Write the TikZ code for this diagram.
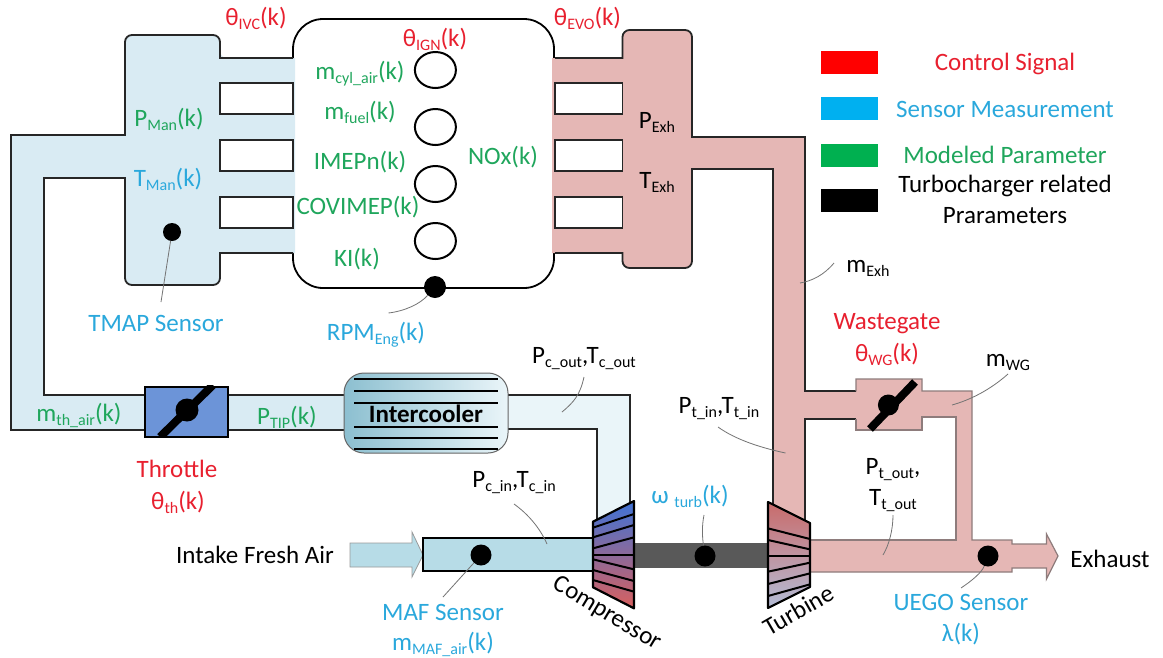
\documentclass[tikz,border=0pt]{standalone}
\usepackage{fontspec}
\setmainfont{Carlito}
\usetikzlibrary{shapes.geometric}
\definecolor{cred}{HTML}{E8202F}
\definecolor{ccyan}{HTML}{2AA8DC}
\definecolor{cgreen}{HTML}{1FA65C}
\definecolor{manblue}{HTML}{D9EBF3}
\definecolor{paleblue}{HTML}{EAF5F9}
\definecolor{inblue}{HTML}{B7DCE7}
\definecolor{coolL}{HTML}{8CBFD0}
\definecolor{exh}{HTML}{E5B7B5}
\definecolor{exhline}{HTML}{8E7C7C}
\definecolor{thblue}{HTML}{6C94D8}
\definecolor{cT}{HTML}{3F73D6}
\definecolor{cM}{HTML}{8C6DB0}
\definecolor{cB}{HTML}{D9605E}
\definecolor{tT}{HTML}{C96B6B}
\definecolor{tM}{HTML}{D3A6AE}
\definecolor{tB}{HTML}{B4BDD7}
\newcommand\Lo[1]{\raisebox{-.35ex}{\fontsize{16}{16}\selectfont #1}}
\tikzset{
  lbl/.style={inner sep=0pt,font=\fontsize{25}{28}\selectfont,text depth=0pt},
  redl/.style={lbl,text=cred},
  cyanl/.style={lbl,text=ccyan},
  greenl/.style={lbl,text=cgreen},
  blackl/.style={lbl,text=black},
  pipe/.style={line width=1.8pt,draw=black!85},
  thinp/.style={line width=1.2pt,draw=exhline},
  leader/.style={line width=.8pt,draw=black!55},
  sensor/.style={circle,fill=black,inner sep=0pt},
  legendbox/.style={minimum width=57pt,minimum height=23pt,inner sep=0pt},
  cyl/.style={ellipse,draw=black,line width=2pt,fill=white,minimum width=41pt,minimum height=36pt,inner sep=0pt},
  blade/.style={line width=8pt,draw=black},
  vanes/.style={line width=2pt,draw=black}
}
\begin{document}
\begin{tikzpicture}[x=1pt,y=-1pt]
\useasboundingbox (0,0) rectangle (1163,657);
\fill[white] (0,0) rectangle (1163,657);

% engine
\node[draw=black,line width=1.8pt,fill=white,rounded corners=30pt,minimum width=261pt,minimum height=269pt,inner sep=0pt] (eng) at (423.5,153.5) {};

% intake side
\fill[manblue] (125,42) [rounded corners=7pt] -- (125,35) -- (220,35) -- (220,58) [sharp corners] -- (295,58) -- (295,253) -- (220,253) [rounded corners=7pt] -- (220,285) -- (125,285) [sharp corners] -- (125,178) -- (44,178) -- (44,395) -- (145,395) -- (145,430) -- (11,430) -- (11,135) -- (125,135) -- cycle;
\draw[pipe] (293,58) -- (220,58) [rounded corners=7pt] -- (220,35) -- (125,35) [sharp corners] -- (125,135) -- (11,135) -- (11,430) -- (145,430);
\draw[pipe] (145,395) -- (44,395) -- (44,178) -- (125,178) [rounded corners=7pt] -- (125,285) -- (220,285) [sharp corners] -- (220,253) -- (293,253);
\foreach \a/\b in {83/114,140/171,197/228}
  \draw[pipe,fill=white] (220,\a) rectangle (293,\b);

% exhaust side
\fill[exh] (622.5,58) [rounded corners=7pt] -- (622.5,30) -- (692,30) [sharp corners] -- (692,137) -- (805,137) -- (805,391) -- (856,391) -- (856,379) -- (922,379) -- (922,391) -- (972,391) -- (972,540) -- (1012,540) -- (1012,544) -- (1046.5,544) -- (1046.5,534) -- (1058,556) -- (1046.5,579) -- (1046.5,568) -- (1012,568) -- (1012,572) -- (805,572) -- (805,540) -- (956,540) -- (956,417) -- (922,417) -- (922,430) -- (856,430) -- (856,419) -- (805,419) -- (805,530) -- (773,530) -- (773,169) -- (692,169) [rounded corners=7pt] -- (692,268) -- (622.5,268) [sharp corners] -- (622.5,253) -- (552,253) -- (552,58) -- cycle;
\draw[pipe] (555,58) -- (622.5,58) [rounded corners=7pt] -- (622.5,30) -- (692,30) [sharp corners] -- (692,137) -- (805,137) -- (805,391) -- (856,391);
\draw[pipe] (555,253) -- (622.5,253) [rounded corners=7pt] -- (622.5,268) -- (692,268) [sharp corners] -- (692,169) -- (773,169) -- (773,525);
\draw[pipe] (856,419) -- (805,419) -- (805,530);
\foreach \a/\b in {83/114,140/171,197/228}
  \draw[pipe,fill=white] (555,\a) rectangle (622.5,\b);
\draw[thinp] (856,391) -- (856,379) -- (922,379) -- (922,391) -- (972,391) -- (972,540) -- (1012,540) -- (1012,544) -- (1046.5,544) -- (1046.5,534) -- (1058,556) -- (1046.5,579) -- (1046.5,568) -- (1012,568) -- (1012,572) -- (810,572);
\draw[thinp] (856,419) -- (856,430) -- (922,430) -- (922,417) -- (956,417) -- (956,540) -- (810,540);

% lower pipes
\fill[manblue] (228,395) rectangle (346,430);
\draw[pipe] (228,395) -- (346,395) (228,430) -- (346,430);
\fill[paleblue] (506,395) -- (630,395) -- (630,510) -- (597,525) -- (597,429) -- (506,429) -- cycle;
\draw[pipe] (506,395) -- (630,395) -- (630,505) (506,429) -- (597,429) -- (597,525);

% throttle
\node[draw=black,line width=2.4pt,fill=thblue,minimum width=83pt,minimum height=50pt,inner sep=0pt] (thr) at (186.5,411.7) {};
\begin{scope}
\clip (thr.south west) rectangle (thr.north east);
\draw[blade] (160,437) -- (213,385);
\end{scope}
\node[sensor,minimum size=23pt] (thrd) at (187,410) {};

% intercooler
\node[draw=black!60,line width=1pt,rounded corners=20pt,left color=coolL,right color=paleblue,minimum width=164pt,minimum height=80pt,inner sep=0pt] (ic) at (426,413) {};
\foreach \y in {379,391,403,427,438,449}
  \draw[line width=2pt] (354,\y) -- (498,\y);
\node[lbl,font=\fontsize{25}{28}\selectfont\bfseries] (ictxt) at (426,414) {Intercooler};

% intake pipe and arrow
\path[fill=inblue,draw=black!40,line width=.8pt] (350,543) -- (412,543) -- (412,532) -- (423,555) -- (412,577) -- (412,567) -- (350,567) -- cycle;
\draw[line width=1.8pt,fill=inblue] (423,538) rectangle (593,571);

% shaft
\fill[black!65] (634,543) rectangle (770,568);

% compressor
\path[top color=cT,middle color=cM,bottom color=cB] (593,521.7) -- (634,501) -- (634,608.3) -- (593,587.3) -- cycle;
\draw[line width=2.2pt,line join=round] (593,521.7) -- (634,501) -- (634,608.3) -- (593,587.3) -- cycle;
\foreach \a/\b in {113/72,142/105,175/142,196/196,208/238,240/273,270/305}
  \draw[vanes] (593,490+\a/3) -- (634,490+\b/3);

% turbine
\path[top color=tT,middle color=tM,bottom color=tB] (768,502) -- (810,523) -- (810,587) -- (768,608) -- cycle;
\draw[line width=2.2pt,line join=round] (768,502) -- (810,523) -- (810,587) -- (768,608) -- cycle;
\foreach \a/\b in {115/147,150/178,197/197,245/218,282/250,318/283}
  \draw[vanes] (768,490+\a/3) -- (810,490+\b/3);

% wastegate valve
\draw[blade] (870,429) -- (915,382);
\node[sensor,minimum size=21pt] (wgd) at (888.4,405) {};

% cylinders
\node[cyl] (c1) at (435.4,70) {};
\node[cyl] (c2) at (435.4,127) {};
\node[cyl] (c3) at (435.4,184) {};
\node[cyl] (c4) at (435.4,241) {};

% sensors
\node[sensor,minimum size=18pt] (tmapd) at (172,232) {};
\node[sensor,minimum size=22pt] (rpmd) at (435,287) {};
\node[sensor,minimum size=21pt] (mafd) at (481,555) {};
\node[sensor,minimum size=21pt] (turbd) at (705,556) {};
\node[sensor,minimum size=21pt] (uegod) at (988,556) {};

% labels
\node[redl] (tivc) at (256,16) {θ\Lo{IVC}(k)};
\node[redl] (tign) at (435,37) {θ\Lo{IGN}(k)};
\node[redl] (tevo) at (587.5,16) {θ\Lo{EVO}(k)};
\node[greenl] (mcyl) at (360,70) {m\Lo{cyl\_air}(k)};
\node[greenl] (mfuel) at (360,110) {m\Lo{fuel}(k)};
\node[greenl] (imep) at (360,160) {IMEPn(k)};
\node[greenl] (cov) at (358,205) {COVIMEP(k)};
\node[greenl] (ki) at (357,257) {KI(k)};
\node[greenl] (nox) at (503,155) {NOx(k)};
\node[greenl] (pman) at (169,117) {P\Lo{Man}(k)};
\node[cyanl] (tman) at (168,177) {T\Lo{Man}(k)};
\node[blackl] (pexh) at (657,120) {P\Lo{Exh}};
\node[blackl] (texh) at (657,180) {T\Lo{Exh}};
\node[cyanl] (tmap) at (156,323) {TMAP Sensor};
\node[cyanl] (rpm) at (376,331) {RPM\Lo{Eng}(k)};
\node[greenl] (mth) at (79,412) {m\Lo{th\_air}(k)};
\node[greenl] (ptip) at (287,415) {P\Lo{TIP}(k)};
\node[redl] (thl) at (177,469) {Throttle};
\node[redl] (tth) at (178,500) {θ\Lo{th}(k)};
\node[blackl] (pcout) at (584,355) {P\Lo{c\_out},T\Lo{c\_out}};
\node[blackl] (pcin) at (514,479) {P\Lo{c\_in},T\Lo{c\_in}};
\node[blackl] (air) at (255,555) {Intake Fresh Air};
\node[cyanl] (maf) at (443,612) {MAF Sensor};
\node[cyanl] (mmaf) at (443,641) {m\Lo{MAF\_air}(k)};
\node[blackl,rotate=-31] (comp) at (608,612) {Compressor};
\node[blackl,rotate=30] (turb) at (798,610) {Turbine};
\node[cyanl] (wturb) at (690,494) {ω \Lo{turb}(k)};
\node[blackl] (ptin) at (719,405) {P\Lo{t\_in},T\Lo{t\_in}};
\node[blackl] (ptout) at (893,466) {P\Lo{t\_out},};
\node[blackl] (ttout) at (893,497) {T\Lo{t\_out}};
\node[blackl] (mwg) at (1008,360) {m\Lo{WG}};
\node[redl] (wgl) at (887,321) {Wastegate};
\node[redl] (twg) at (887,352) {θ\Lo{WG}(k)};
\node[cyanl] (uego) at (961,602) {UEGO Sensor};
\node[cyanl] (lam) at (961,632) {λ(k)};
\node[blackl] (exl) at (1110,559) {Exhaust};
\node[blackl] (mexh) at (868,266) {m\Lo{Exh}};

% leaders
\coordinate (lcout) at (562,412);
\coordinate (lcin) at (547,544);
\coordinate (ltin) at (785.5,453);
\coordinate (ltout) at (883,555);
\coordinate (lwg) at (952,405);
\coordinate (lexh) at (800,283);
\draw[leader] (tmapd) -- (161,302);
\draw[leader] (rpmd) .. controls (420,304) and (405,311) .. (388.5,313);
\draw[leader] (584,377) .. controls (580,395) and (574,402) .. (lcout);
\draw[leader] (514,504) .. controls (528,514) and (540,528) .. (lcin);
\draw[leader] (mafd) -- (443,597);
\draw[leader] (704,515) .. controls (702,525) and (702,535) .. (turbd);
\draw[leader] (718,427) .. controls (736,440) and (762,448) .. (ltin);
\draw[leader] (893,515) .. controls (893,530) and (889,545) .. (ltout);
\draw[leader] (1008,374) .. controls (990,390) and (970,400) .. (lwg);
\draw[leader] (uegod) .. controls (982,572) and (973,580) .. (961,588);
\draw[leader] (834,263) .. controls (824,275) and (812,281) .. (lexh);

% legend
\node[legendbox,fill=red] (l1) at (849.5,62.5) {};
\node[legendbox,fill={rgb,255:red,0;green,176;blue,240}] (l2) at (849.5,108) {};
\node[legendbox,fill={rgb,255:red,0;green,176;blue,80}] (l3) at (849.5,155) {};
\node[legendbox,fill=black] (l4) at (849.5,200) {};
\node[redl] (lt1) at (1005,62) {Control Signal};
\node[cyanl] (lt2) at (1005,109) {Sensor Measurement};
\node[greenl] (lt3) at (1005,155) {Modeled Parameter};
\node[blackl] (lt4) at (1005,184) {Turbocharger related};
\node[blackl] (lt5) at (1005,215) {Prarameters};
\end{tikzpicture}
\end{document}
